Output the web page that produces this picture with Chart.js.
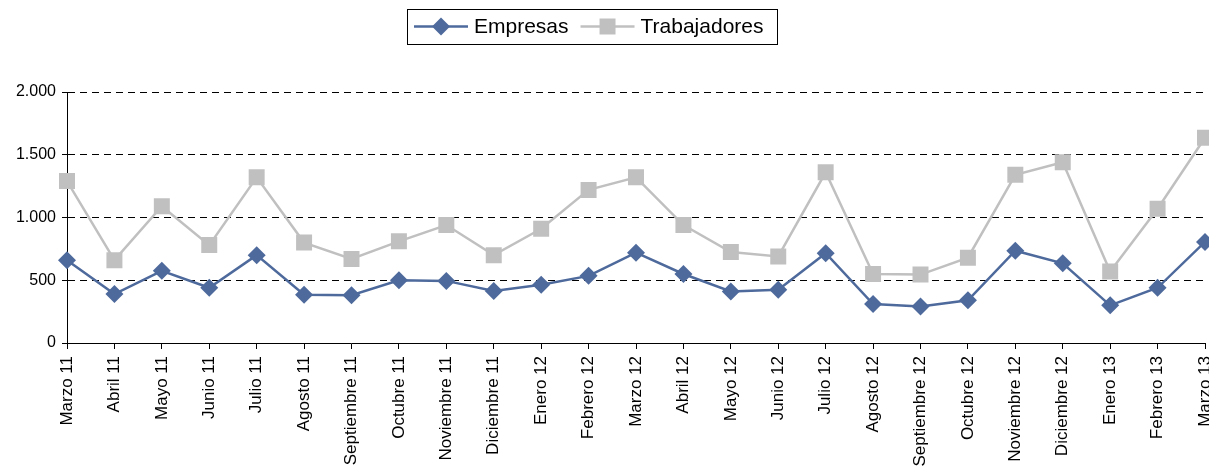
<!DOCTYPE html>
<html>
<head>
<meta charset="utf-8">
<script src="https://cdn.jsdelivr.net/npm/chart.js@4/dist/chart.umd.min.js"></script>
<style>
  html, body { margin: 0; padding: 0; background: #fff; }
  #wrap { width: 1209px; height: 470px; }
</style>
</head>
<body>
<div id="wrap"><canvas id="mycanvas" width="1209" height="470"></canvas></div>
<script>
// meses
var meses = ['Marzo 11', 'Abril 11', 'Mayo 11', 'Junio 11', 'Julio 11', 'Agosto 11',
  'Septiembre 11', 'Octubre 11', 'Noviembre 11', 'Diciembre 11', 'Enero 12', 'Febrero 12',
  'Marzo 12', 'Abril 12', 'Mayo 12', 'Junio 12', 'Julio 12', 'Agosto 12',
  'Septiembre 12', 'Octubre 12', 'Noviembre 12', 'Diciembre 12', 'Enero 13', 'Febrero 13', 'Marzo 13'];

var empresas = [660, 390, 575, 440, 700, 385, 380, 500, 495, 415, 465, 535,
  720, 550, 410, 425, 715, 310, 290, 340, 735, 635, 300, 440, 805];

var trabajadores = [1290, 660, 1090, 780, 1320, 800, 670, 810, 940, 700, 910, 1220,
  1320, 940, 725, 690, 1360, 550, 545, 680, 1340, 1440, 570, 1070, 1635];

var yTicks = [0, 500, 1000, 1500, 2000];

var azul = '#4E6A9C';
var gris = '#C0C0C0';
var fuente = '"Liberation Sans", Arial, sans-serif';

/* leyenda dibujada a mano, con recuadro */
var leyenda = {
  id: 'leyenda',
  afterDraw: function(chart) {
    var ctx = chart.ctx;
    var sets = chart.data.datasets;
    ctx.save();
    ctx.font = '21px ' + fuente;
    var x0 = 407, y0 = 9, h = 35, cy = y0 + h / 2;
    var x = x0 + 7;
    for (var i = 0; i < sets.length; i++) {
      var ds = sets[i];
      ctx.strokeStyle = ds.borderColor;
      ctx.lineWidth = 2.5;
      ctx.beginPath();
      ctx.moveTo(x, cy);
      ctx.lineTo(x + 54, cy);
      ctx.stroke();
      ctx.fillStyle = ds.pointBackgroundColor;
      Chart.helpers.drawPoint(ctx, {
        pointStyle: ds.pointStyle, radius: ds.pointRadius, rotation: 0, borderWidth: 0
      }, x + 27, cy);
      ctx.fillStyle = '#000';
      ctx.textBaseline = 'middle';
      ctx.fillText(ds.label, x + 60, cy + 1);
      x += 60 + ctx.measureText(ds.label).width + 12;
    }
    ctx.strokeStyle = '#000';
    ctx.lineWidth = 1;
    ctx.strokeRect(x0 + 0.5, y0 + 0.5, 370, h);
    ctx.restore();
  }
};

var chartdata = {
  labels: meses,
  datasets: [
    {
      label: 'Empresas',
      data: empresas,
      borderColor: azul,
      backgroundColor: azul,
      pointBackgroundColor: azul,
      pointBorderColor: azul,
      pointStyle: 'rectRot',
      pointRadius: 9,
      pointBorderWidth: 0,
      borderWidth: 2.5,
      tension: 0,
      order: 1
    },
    {
      label: 'Trabajadores',
      data: trabajadores,
      borderColor: gris,
      backgroundColor: gris,
      pointBackgroundColor: gris,
      pointBorderColor: gris,
      pointStyle: 'rect',
      pointRadius: 11.3,
      pointBorderWidth: 0,
      borderWidth: 2.5,
      tension: 0,
      order: 2
    }
  ]
};

var ctx = document.getElementById('mycanvas');
var grafico = new Chart(ctx, {
  type: 'line',
  data: chartdata,
  plugins: [leyenda],
  options: {
    responsive: false,
    animation: false,
    layout: { autoPadding: false, padding: { top: 92, right: 4, left: 0, bottom: 0 } },
    plugins: { legend: { display: false }, tooltip: { enabled: false } },
    scales: {
      x: {
        offset: false,
        grid: { drawOnChartArea: false, drawTicks: true, tickLength: 6, color: '#000', lineWidth: 1 },
        border: { color: '#000', width: 1 },
        ticks: {
          color: '#000', font: { family: fuente, size: 17 },
          minRotation: 90, maxRotation: 90, autoSkip: false, padding: 7
        },
        afterFit: function(s) { s.height = 127; s.paddingLeft = 0; s.paddingRight = 0; }
      },
      y: {
        min: 0, max: 2000,
        afterBuildTicks: function(s) { s.ticks = yTicks.map(function(v) { return { value: v }; }); },
        grid: { color: '#000', lineWidth: 1, drawTicks: true, tickLength: 5, tickColor: '#000', tickBorderDash: [] },
        border: { color: '#000', width: 1, dash: [7, 5] },
        ticks: {
          color: '#000', font: { family: fuente, size: 16 }, padding: 6,
          callback: function(v) { return v.toLocaleString('de-DE'); }
        },
        afterFit: function(s) { s.width = 67; }
      }
    }
  }
});
</script>
</body>
</html>
